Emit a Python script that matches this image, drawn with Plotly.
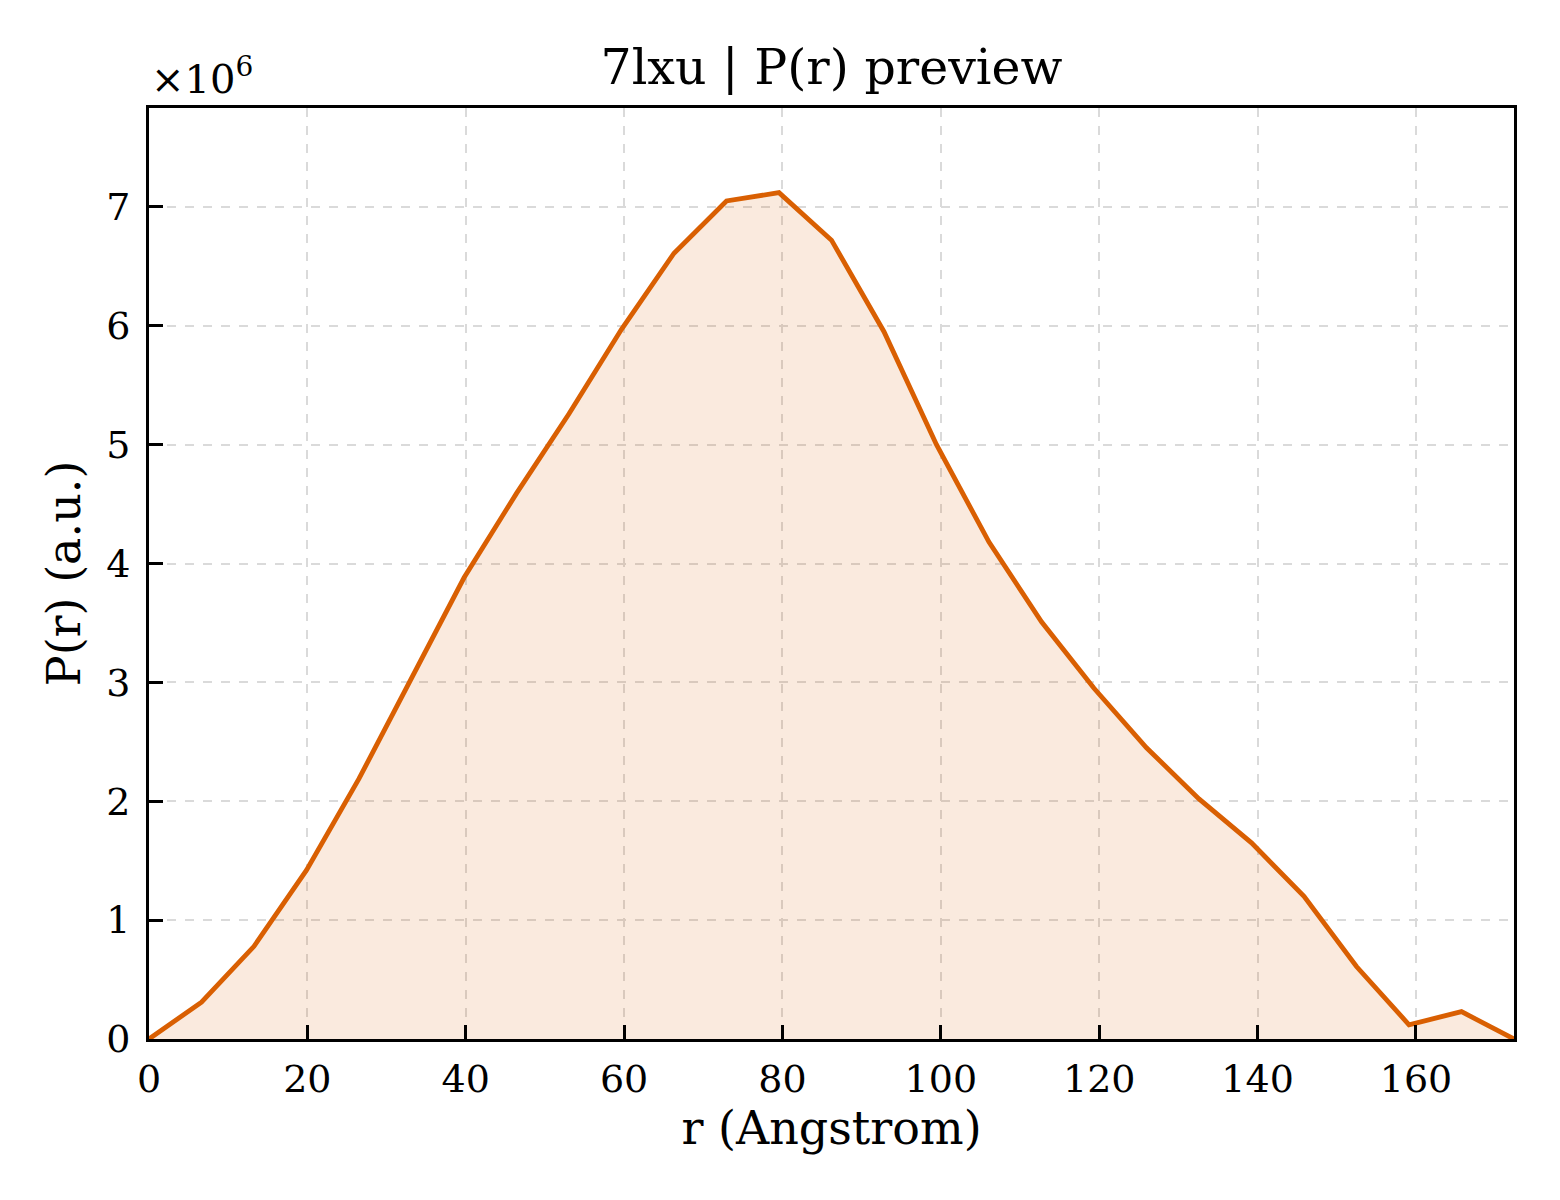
import plotly.graph_objects as go

# P(r) curve, values in units of 1e6
r_vals = [0.0, 6.63, 13.26, 19.89, 26.52, 33.15, 39.78, 46.41, 53.04, 59.67,
          66.30, 72.93, 79.56, 86.19, 92.82, 99.45, 106.08, 112.71, 119.34,
          125.97, 132.60, 139.23, 145.86, 152.49, 159.12, 165.75, 172.38]
p_vals = [0.0, 0.31, 0.78, 1.42, 2.19, 3.04, 3.88, 4.59, 5.26, 5.97,
          6.61, 7.05, 7.12, 6.72, 5.95, 5.00, 4.18, 3.51, 2.95,
          2.45, 2.02, 1.65, 1.20, 0.61, 0.12, 0.23, 0.0]
x_ticks = [0, 20, 40, 60, 80, 100, 120, 140, 160]
y_ticks = [0, 1, 2, 3, 4, 5, 6, 7]

line_color = "#d95f02"
serif = "DejaVu Serif"

fig = go.Figure()

# filled area under the curve
fig.add_trace(go.Scatter(
    x=r_vals, y=p_vals, mode="lines",
    line=dict(color=line_color, width=4.8),
    fill="tozeroy", fillcolor="rgba(217, 95, 2, 0.13)",
    showlegend=False,
))

axis_style = dict(
    showline=True, linecolor="black", linewidth=3, mirror=True,
    ticks="inside", ticklen=14, tickwidth=3, tickcolor="black",
    showgrid=True, gridcolor="#dadada", gridwidth=1.5, griddash="dash",
    zeroline=False,
    tickfont=dict(family=serif, size=38, color="black"),
)

fig.update_xaxes(
    range=[0, max(r_vals)], tickvals=x_ticks, ticklabelstandoff=4,
    title=dict(text="r (Angstrom)", font=dict(family=serif, size=46, color="black"), standoff=12),
    **axis_style,
)
fig.update_yaxes(
    range=[0, max(p_vals) * 1.1], tickvals=y_ticks, ticklabelstandoff=8,
    title=dict(text="P(r) (a.u.)", font=dict(family=serif, size=46, color="black"), standoff=12),
    **axis_style,
)

# offset text for the y axis
fig.add_annotation(
    text="×10<sup>6</sup>", xref="paper", yref="paper", x=0, y=1.0,
    xanchor="left", yanchor="bottom", showarrow=False, yshift=4,
    font=dict(family=serif, size=40, color="black"),
)

# the page body adds 8px, so the figure is 8px smaller
fig.update_layout(
    width=1552, height=1192,
    margin=dict(l=141, r=46, t=100, b=161),
    paper_bgcolor="white", plot_bgcolor="white",
    title=dict(text="7lxu | P(r) preview", x=0.5, xref="paper", xanchor="center",
               y=1.0, yref="paper", yanchor="bottom", pad=dict(b=24),
               font=dict(family=serif, size=49, color="black")),
)

fig.write_html("out.html")
